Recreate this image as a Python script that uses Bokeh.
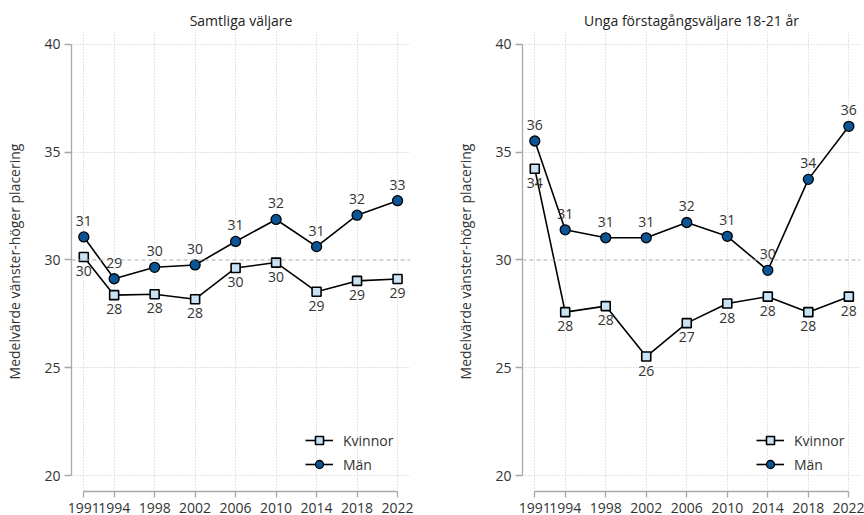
from bokeh.plotting import figure
from bokeh.models import (ColumnDataSource, Range1d, FixedTicker, Span, LabelSet,
                          Legend, LegendItem)
from bokeh.core.properties import value
from bokeh.layouts import row
from bokeh.embed import file_html
from bokeh.resources import INLINE

years = [1991, 1994, 1998, 2002, 2006, 2010, 2014, 2018, 2022]

# Samtliga väljare
all_kvinnor = [30.14, 28.37, 28.41, 28.18, 29.63, 29.88, 28.53, 29.03, 29.12]
all_man = [31.07, 29.13, 29.66, 29.77, 30.86, 31.88, 30.62, 32.08, 32.75]
all_kvinnor_lbl = ["30", "28", "28", "28", "30", "30", "29", "29", "29"]
all_man_lbl = ["31", "29", "30", "30", "31", "32", "31", "32", "33"]

# Unga förstagångsväljare 18-21 år
ung_kvinnor = [34.23, 27.58, 27.86, 25.52, 27.07, 27.98, 28.30, 27.58, 28.30]
ung_man = [35.52, 31.40, 31.03, 31.03, 31.74, 31.10, 29.52, 33.74, 36.20]
ung_kvinnor_lbl = ["34", "28", "28", "26", "27", "28", "28", "28", "28"]
ung_man_lbl = ["36", "31", "31", "31", "32", "31", "30", "34", "36"]

y_ticks = [20, 25, 30, 35, 40]
titles = ["Samtliga väljare", "Unga förstagångsväljare 18-21 år"]
y_label = "Medelvärde vänster-höger placering"
legend_labels = ["Kvinnor", "Män"]

FONT = "Open Sans"
FS = "14px"
TXT = "#333333"
AX = "#a8a8a8"
MAN_FILL = "#0a5596"
KV_FILL = "#c8e3f5"


def panel(title, kv, man, kv_lbl, man_lbl, width, border_right, x_start, x_end):
    p = figure(width=width, height=515, output_backend="svg", toolbar_location=None,
               x_range=Range1d(x_start, x_end), y_range=Range1d(19.26, 40.6),
               min_border_left=71, min_border_right=border_right,
               min_border_top=31, min_border_bottom=20)
    p.outline_line_color = None
    p.background_fill_color = "white"
    p.border_fill_color = "white"

    p.title.text = title
    p.title.align = "center"
    p.title.text_font = FONT
    p.title.text_font_size = FS
    p.title.text_font_style = "normal"
    p.title.text_color = "#222222"
    p.title.standoff = 3

    # axes
    for ax in (p.xaxis[0], p.yaxis[0]):
        ax.axis_line_color = AX
        ax.axis_line_width = 1.3
        ax.major_tick_line_color = AX
        ax.major_tick_line_width = 1.3
        ax.major_tick_in = 0
        ax.minor_tick_line_color = None
        ax.major_label_text_font = FONT
        ax.major_label_text_font_size = FS
        ax.major_label_text_color = TXT
    p.xaxis.ticker = FixedTicker(ticks=years)
    p.xaxis.bounds = (1991, 2022)
    p.xaxis.major_tick_out = 6
    p.xaxis.major_label_standoff = 5
    p.yaxis.ticker = FixedTicker(ticks=y_ticks)
    p.yaxis.bounds = (20, 40)
    p.yaxis.major_tick_out = 7
    p.yaxis.major_label_standoff = 4
    p.yaxis.axis_label = y_label
    p.yaxis.axis_label_text_font = FONT
    p.yaxis.axis_label_text_font_size = FS
    p.yaxis.axis_label_text_font_style = "normal"
    p.yaxis.axis_label_text_color = TXT
    p.yaxis.axis_label_standoff = 17

    # grids
    p.xgrid.ticker = FixedTicker(ticks=years)
    p.ygrid.ticker = FixedTicker(ticks=[20, 25, 35, 40])
    for g in (p.xgrid[0], p.ygrid[0]):
        g.grid_line_color = "#c8c8c8"
        g.grid_line_dash = "1 2"
        g.grid_line_width = 1

    p.add_layout(Span(location=30, dimension="width", line_color="#aaaaaa",
                      line_dash="4 3", line_width=1))

    src = ColumnDataSource(dict(x=years, kv=kv, man=man, kv_lbl=kv_lbl, man_lbl=man_lbl))

    l_kv = p.line("x", "kv", source=src, line_color="black", line_width=1.6)
    s_kv = p.scatter("x", "kv", source=src, marker="square", size=9,
                     fill_color=KV_FILL, line_color="black", line_width=1.6)
    l_man = p.line("x", "man", source=src, line_color="black", line_width=1.6)
    s_man = p.scatter("x", "man", source=src, marker="circle", size=10,
                      fill_color=MAN_FILL, line_color="black", line_width=1.3)

    p.add_layout(LabelSet(x="x", y="kv", text="kv_lbl", source=src, y_offset=-14,
                          text_align="center", text_baseline="middle",
                          text_font=value(FONT), text_font_size=value(FS),
                          text_color=TXT))
    p.add_layout(LabelSet(x="x", y="man", text="man_lbl", source=src, y_offset=16,
                          text_align="center", text_baseline="middle",
                          text_font=value(FONT), text_font_size=value(FS),
                          text_color=TXT))

    legend = Legend(items=[LegendItem(label=legend_labels[0], renderers=[l_kv, s_kv]),
                           LegendItem(label=legend_labels[1], renderers=[l_man, s_man])],
                    location=(234, 17))
    legend.glyph_width = 28
    legend.glyph_height = 20
    legend.label_standoff = 10
    legend.spacing = 4
    legend.padding = 0
    legend.margin = 0
    legend.border_line_color = None
    legend.background_fill_alpha = 0
    legend.label_text_font = FONT
    legend.label_text_font_size = FS
    legend.label_text_color = TXT
    legend.label_height = 20
    p.add_layout(legend, "center")
    return p


p1 = panel(titles[0], all_kvinnor, all_man, all_kvinnor_lbl, all_man_lbl,
           451, 41, 1989.785, 2023.28)
p2 = panel(titles[1], ung_kvinnor, ung_man, ung_kvinnor_lbl, ung_man_lbl,
           413, 4, 1989.786, 2023.15)

layout = row(p1, p2)
open("out.html", "w").write(file_html(layout, INLINE))
